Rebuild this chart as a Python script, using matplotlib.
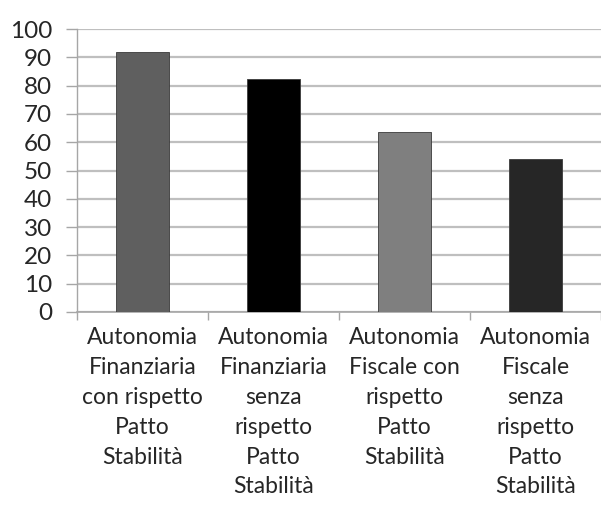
import matplotlib.pyplot as plt

# data
categories = [
    "Autonomia\nFinanziaria\ncon rispetto\nPatto\nStabilità",
    "Autonomia\nFinanziaria\nsenza\nrispetto\nPatto\nStabilità",
    "Autonomia\nFiscale con\nrispetto\nPatto\nStabilità",
    "Autonomia\nFiscale\nsenza\nrispetto\nPatto\nStabilità",
]
values = [91.8, 82.3, 63.6, 54.1]
colors = ["#5f5f5f", "#000000", "#7f7f7f", "#262626"]
y_ticks = list(range(0, 101, 10))

plt.rcParams['font.family'] = ['Lato', 'DejaVu Sans']

fig = plt.figure(figsize=(6.01, 5.18), dpi=100)
ax = fig.add_axes([77 / 601, 1 - 312 / 518, 1 - 77 / 601, (312 - 29) / 518])

x = range(len(values))
ax.bar(x, values, width=0.4, color=colors, edgecolor="#3a3a3a", linewidth=0.6, zorder=3)

ax.set_ylim(0, 100)
ax.set_xlim(-0.5, 3.47)
ax.set_yticks(y_ticks)
ax.set_yticklabels([str(v) for v in y_ticks], fontsize=17.5, color="#262626")
ax.grid(axis='y', color="#bfbfbf", linewidth=1.6, zorder=0)

ax.set_xticks(list(x))
ax.set_xticklabels(categories, fontsize=16.5, color="#262626", linespacing=1.52)
ax.set_xticks([-0.5, 0.5, 1.5, 2.5, 3.5], minor=True)
ax.tick_params(axis='x', which='major', length=0, pad=11)
ax.tick_params(axis='x', which='minor', length=6, color="#a6a6a6", width=1)
ax.tick_params(axis='y', length=8, color="#a6a6a6", width=1, pad=10)

for side in ['top', 'right']:
    ax.spines[side].set_visible(False)
ax.spines['left'].set_color("#a6a6a6")
ax.spines['bottom'].set_color("#a6a6a6")
ax.spines['left'].set_linewidth(1)
ax.spines['bottom'].set_linewidth(1.2)

fig.savefig('out.png', dpi=100)
